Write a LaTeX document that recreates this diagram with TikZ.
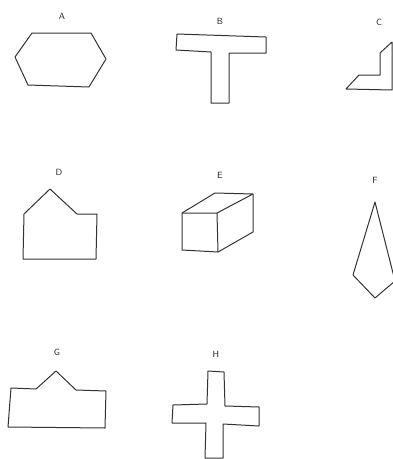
\documentclass[tikz,border=0pt]{standalone}
\usepackage{tikz}

\begin{document}
\begin{tikzpicture}[
  x=1pt,y=-1pt,
  outline/.style={draw=black!80,line width=1pt,line join=round},
  letter/.style={font=\sffamily\small,text=black!85,inner sep=1pt}
]
\useasboundingbox (0,0) rectangle (393,459);
% row 1
\node[letter] (la) at (62,16) {A};
\draw[outline] (32,33) -- (91,33) -- (106,59) -- (89,87) -- (28,85) -- (15,57) -- cycle;
\node[letter] (lb) at (220,21) {B};
\draw[outline] (177,34) -- (266,37) -- (266,53) -- (229,53) -- (229,103) -- (211,103) -- (211,52) -- (176,50) -- cycle;
\node[letter] (lc) at (379,22) {C};
\draw[outline] (392,42) -- (380,53) -- (380,75) -- (359,75) -- (346,89) -- (392,90) -- cycle;
% row 2
\node[letter] (ld) at (59,172) {D};
\draw[outline] (50,189) -- (24,214) -- (23,259) -- (96,259) -- (97,214) -- (77,214) -- cycle;
\node[letter] (le) at (220,175) {E};
\draw[outline] (182,213) -- (217,213) -- (218,252) -- (182,250) -- cycle;
\draw[outline] (182,213) -- (215,193) -- (253,194) -- (217,213);
\draw[outline] (253,194) -- (253,232) -- (218,252);
\node[letter] (lf) at (375,180) {F};
\draw[outline] (375,202) -- (353,275) -- (375,298) -- (395,281) -- cycle;
% row 3
\node[letter] (lg) at (57,352) {G};
\draw[outline] (8,427) -- (11,388) -- (36,389) -- (56,371) -- (76,390) -- (106,391) -- (105,428) -- cycle;
\node[letter] (lh) at (216,354) {H};
\draw[outline] (208,371) -- (224,372) -- (225,406) -- (259,407) -- (259,426) -- (223,424) -- (223,458) -- (205,458) -- (206,423) -- (172,423) -- (173,405) -- (207,404) -- cycle;
\end{tikzpicture}
\end{document}
